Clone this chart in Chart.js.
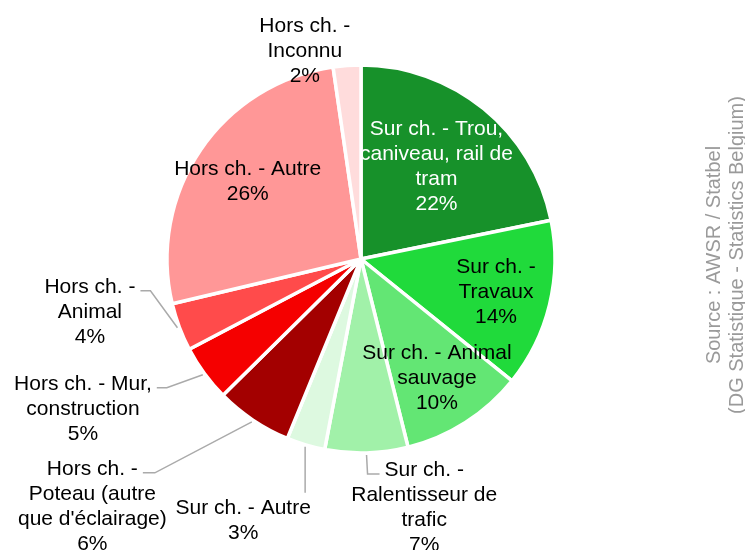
<!DOCTYPE html>
<html>
<head>
<meta charset="utf-8">
<title>Accidents - type d'obstacle</title>
<script src="https://cdn.jsdelivr.net/npm/chart.js"></script>
<style>
  body { margin: 0; background: #fff; }
  #chart { display: block; }
</style>
</head>
<body>
<canvas id="chart" width="745" height="550"></canvas>
<script>
// data, clockwise from 12 o'clock (shares in %, labels show them rounded)
var categories = [
  "Sur ch. - Trou, caniveau, rail de tram",
  "Sur ch. - Travaux",
  "Sur ch. - Animal sauvage",
  "Sur ch. - Ralentisseur de trafic",
  "Sur ch. - Autre",
  "Hors ch. - Poteau (autre que d'éclairage)",
  "Hors ch. - Mur, construction",
  "Hors ch. - Animal",
  "Hors ch. - Autre",
  "Hors ch. - Inconnu"
];
var values = [21.8, 14.0, 10.3, 6.9, 3.2, 6.4, 4.7, 4.0, 26.4, 2.3];
var labelLines = [
  ["Sur ch. - Trou,", "caniveau, rail de", "tram"],
  ["Sur ch. -", "Travaux"],
  ["Sur ch. - Animal", "sauvage"],
  ["Sur ch. -", "Ralentisseur de", "trafic"],
  ["Sur ch. - Autre"],
  ["Hors ch. -", "Poteau (autre", "que d'éclairage)"],
  ["Hors ch. - Mur,", "construction"],
  ["Hors ch. -", "Animal"],
  ["Hors ch. - Autre"],
  ["Hors ch. -", "Inconnu"]
];
var sourceLines = ["Source : AWSR / Statbel", "(DG Statistique - Statistics Belgium)"];

var colors = ['#17912a', '#20da3b', '#63e674', '#a1f1a9', '#ddf9e0',
              '#a30000', '#f50000', '#ff4b4b', '#ff9797', '#ffdcdc'];

// where each slice label goes (inside = fraction of radius, else leader line)
var labelPlace = [
  { inside: 0.615, color: '#fff' },
  { inside: 0.716 },
  { inside: 0.727 },
  { knee: [1, 19], h: 12 },
  { knee: [0, 46], h: 0, text: [-62, 15.5] },
  { knee: [-97, 51], h: -12 },
  { knee: [-36, 13], h: -10 },
  { knee: [-27, -37], h: -10 },
  { inside: 0.706 },
  { knee: null, text: [-42, -37] }
];

var FONT = '21px "Liberation Sans", Arial, sans-serif';
var LH = 25;

var total = values.reduce(function(a, b) { return a + b; }, 0);

var labelPlugin = {
  id: 'sliceLabels',
  afterDatasetsDraw: function(chart) {
    var ctx = chart.ctx;
    var meta = chart.getDatasetMeta(0);
    ctx.save();
    ctx.font = FONT;
    ctx.textAlign = 'center';
    ctx.textBaseline = 'middle';
    meta.data.forEach(function(arc, i) {
      var p = labelPlace[i];
      var pct = Math.round(values[i] / total * 100) + '%';
      var lines = labelLines[i].concat([pct]);
      var mid = (arc.startAngle + arc.endAngle) / 2;
      var cx, cy;
      if (p.inside) {
        var r = arc.outerRadius * p.inside;
        cx = arc.x + Math.cos(mid) * r;
        cy = arc.y + Math.sin(mid) * r - (lines.length - 1) * LH / 2;
      } else {
        var sx = arc.x + Math.cos(mid) * (arc.outerRadius + 2);
        var sy = arc.y + Math.sin(mid) * (arc.outerRadius + 2);
        var ex = sx, ey = sy;
        if (p.knee) {
          var kx = sx + p.knee[0], ky = sy + p.knee[1];
          ex = kx + p.h; ey = ky;
          ctx.strokeStyle = '#aaaaaa';
          ctx.lineWidth = 1.5;
          ctx.beginPath();
          ctx.moveTo(sx, sy);
          ctx.lineTo(kx, ky);
          ctx.lineTo(ex, ey);
          ctx.stroke();
        }
        if (p.text) {
          cx = ex + p.text[0];
          cy = ey + p.text[1];
        } else {
          var w = ctx.measureText(lines[0]).width;
          cx = p.h > 0 ? ex + 5 + w / 2 : ex - 5 - w / 2;
          cy = ey - 4;
        }
      }
      ctx.fillStyle = p.color || '#000';
      lines.forEach(function(t, j) { ctx.fillText(t, cx, cy + j * LH); });
    });

    // source note, rotated on the right
    ctx.fillStyle = '#9a9a9a';
    ctx.font = '20px "Liberation Sans", Arial, sans-serif';
    ctx.translate(725.5, 255);
    ctx.rotate(-Math.PI / 2);
    ctx.fillText(sourceLines[0], 0, -11.5);
    ctx.fillText(sourceLines[1], 0, 11.5);
    ctx.restore();
  }
};

new Chart(document.getElementById('chart'), {
  type: 'pie',
  data: {
    labels: categories,
    datasets: [{
      data: values,
      backgroundColor: colors,
      borderColor: '#ffffff',
      borderWidth: 3.5,
      radius: 194
    }]
  },
  options: {
    responsive: false,
    animation: false,
    events: [],
    layout: { padding: { left: 0, right: 23, top: 0, bottom: 32 } },
    plugins: {
      legend: { display: false },
      tooltip: { enabled: false }
    }
  },
  plugins: [labelPlugin]
});
</script>
</body>
</html>
